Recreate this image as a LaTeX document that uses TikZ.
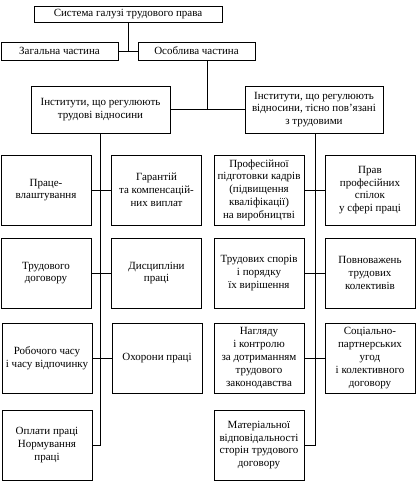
\documentclass[tikz,border=0pt]{standalone}
\usepackage{fontspec}
\setmainfont{Liberation Serif}
\usepackage{tikz}

\tikzset{
	box/.style={draw,thick,align=center,inner sep=1pt,font=\fontsize{11}{12.8}\selectfont},
	cell/.style={box,minimum width=90,minimum height=70},
	wire/.style={semithick}
}

\begin{document}
\begin{tikzpicture}
		[x=1pt,y=-1pt,auto=left]
		\useasboundingbox (0,0) rectangle (417,483);
		\node [box,minimum width=188,minimum height=16](sys) at (128,14) {Система галузі трудового права};
		\node [box,minimum width=117,minimum height=18](zag) at (59.5,51) {Загальна частина};
		\node [box,minimum width=117,minimum height=18](osob) at (196.5,51) {Особлива частина};
		\node [box,minimum width=139,minimum height=47](li) at (100.5,109.5) {Інститути, що регулюють\\трудові відносини};
		\node [box,minimum width=138,minimum height=47](ri) at (314,109.5) {Інститути, що регулюють\\відносини, тісно пов’язані\\з трудовими};
		\coordinate (j) at (207,109.5);
		% left column
		\node [cell](l1a) at (46,190) {Праце-\\влаштування};
		\node [cell](l1b) at (156.5,190) {Гарантій\\та компенсацій-\\них виплат};
		\node [cell](l2a) at (46,273) {Трудового\\договору};
		\node [cell](l2b) at (156.5,273) {Дисципліни\\праці};
		\node [cell](l3a) at (47,358) {Робочого часу\\і часу відпочинку};
		\node [cell](l3b) at (157,358) {Охорони праці};
		\node [cell](l4a) at (47,445) {Оплати праці\\Нормування\\праці};
		% right column
		\node [cell](r1a) at (259,190) {Професійної\\підготовки кадрів\\(підвищення\\кваліфікації)\\на виробництві};
		\node [cell](r1b) at (370,190) {Прав\\професійних\\спілок\\у сфері праці};
		\node [cell](r2a) at (259,273) {Трудових спорів\\і порядку\\їх вирішення};
		\node [cell](r2b) at (370,273) {Повноважень\\трудових\\колективів};
		\node [cell](r3a) at (259,358) {Нагляду\\і контролю\\за дотриманням\\трудового\\законодавства};
		\node [cell](r3b) at (370,358) {Соціально-\\партнерських\\угод\\і колективного\\договору};
		\node [cell](r4a) at (259,445) {Матеріальної\\відповідальності\\сторін трудового\\договору};
		% connectors
		\draw [wire] (sys.south) -- (sys.south |- zag.east);
		\draw [wire] (zag.east) -- (osob.west);
		\draw [wire] (osob.south -| j) -- (j);
		\draw [wire] (li.east) -- (ri.west);
		\draw [wire] (li.south) -- (li.south |- l4a.east) -- (l4a.east);
		\draw [wire] (l1a.east) -- (l1b.west);
		\draw [wire] (l2a.east) -- (l2b.west);
		\draw [wire] (l3a.east) -- (l3b.west);
		\draw [wire] (ri.south -| 315,0) -- (315,445) -- (r4a.east);
		\draw [wire] (r1a.east) -- (r1b.west);
		\draw [wire] (r2a.east) -- (r2b.west);
		\draw [wire] (r3a.east) -- (r3b.west);
	\end{tikzpicture}
\end{document}
